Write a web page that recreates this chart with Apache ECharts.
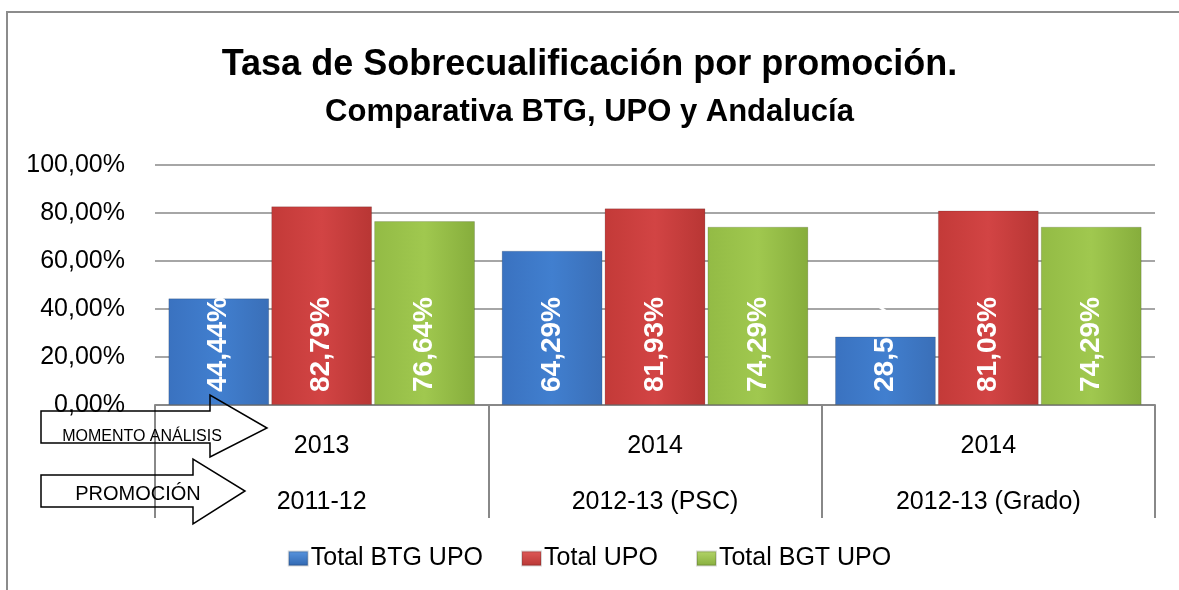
<!DOCTYPE html>
<html><head><meta charset="utf-8">
<script src="https://cdn.jsdelivr.net/npm/echarts@6/dist/echarts.min.js"></script>
<style>html,body{margin:0;padding:0;background:#fff}#c{width:1179px;height:590px}</style>
</head><body><div id="c"></div>
<script>
const years = ['2013', '2014', '2014'];
const promos = ['2011-12', '2012-13 (PSC)', '2012-13 (Grado)'];
const seriesNames = ['Total BTG UPO', 'Total UPO', 'Total BGT UPO'];
const btgUpo = [44.44, 64.29, 28.57];
const totalUpo = [82.79, 81.93, 81.03];
const bgtUpo = [76.64, 74.29, 74.29];
const yTicks = [0, 20, 40, 60, 80, 100];

const FONT = '"Liberation Sans", "Open Sans", sans-serif';
const fmt = v => v.toFixed(2).replace('.', ',') + '%';
function grad(c1, c2, c3) {
  return new echarts.graphic.LinearGradient(0, 0, 1, 0, [
    {offset: 0, color: c1}, {offset: 0.5, color: c2}, {offset: 1, color: c3}
  ]);
}
const colors = [
  grad('#3a72c0', '#417fcf', '#3a6fb8'),
  grad('#c33a38', '#d24444', '#b83634'),
  grad('#93bb45', '#a0c84f', '#86ad3c')
];
const legendColors = [
  new echarts.graphic.LinearGradient(0, 0, 0, 1, [{offset: 0, color: '#5a96e0'}, {offset: 1, color: '#2f66b0'}]),
  new echarts.graphic.LinearGradient(0, 0, 0, 1, [{offset: 0, color: '#e05a58'}, {offset: 1, color: '#b83634'}]),
  new echarts.graphic.LinearGradient(0, 0, 0, 1, [{offset: 0, color: '#b4d66a'}, {offset: 1, color: '#86ad3c'}])
];
const dataSets = [btgUpo, totalUpo, bgtUpo];

const chart = echarts.init(document.getElementById('c'));
chart.setOption({
  animation: false,
  textStyle: {fontFamily: FONT},
  title: [
    {text: 'Tasa de Sobrecualificación por promoción.', left: 'center', top: 42,
     textStyle: {fontSize: 36, fontWeight: 'bold', color: '#000', fontFamily: FONT}},
    {text: 'Comparativa BTG, UPO y Andalucía', left: 'center', top: 92,
     textStyle: {fontSize: 31, fontWeight: 'bold', color: '#000', fontFamily: FONT}}
  ],
  legend: {
    top: 541, left: 'center', itemWidth: 19, itemHeight: 14, itemGap: 38,
    icon: 'rect',
    textStyle: {fontSize: 25, color: '#000', fontFamily: FONT, padding: [0, 0, 0, -2]},
    data: seriesNames.map((n, i) => ({name: n, itemStyle: {color: legendColors[i]}}))
  },
  grid: {left: 155, right: 24, top: 165, bottom: 185, containLabel: false},
  xAxis: {
    type: 'category',
    data: years.map((y, i) => y + '\n\n' + promos[i]),
    axisLine: {lineStyle: {color: '#888', width: 2}},
    axisTick: {show: true, length: 113, lineStyle: {color: '#888', width: 2}},
    axisLabel: {fontSize: 25, color: '#000', lineHeight: 28, margin: 27, fontFamily: FONT}
  },
  yAxis: {
    type: 'value', min: 0, max: 100, interval: 20,
    axisLine: {show: false}, axisTick: {show: false},
    splitLine: {lineStyle: {color: '#888', width: 1.5}},
    axisLabel: {fontSize: 25, color: '#000', margin: 30, formatter: v => yTicks.includes(v) ? fmt(v) : '', fontFamily: FONT}
  },
  series: dataSets.map((d, i) => ({
    name: seriesNames[i], type: 'bar', data: d,
    barCategoryGap: '8%', barGap: '2%',
    itemStyle: {color: colors[i], borderColor: 'rgba(0,0,0,0.15)', borderWidth: 1},
    label: {
      show: true, position: 'insideBottom', rotate: 90, align: 'left', verticalAlign: 'middle',
      distance: 13, color: '#fff', fontWeight: 'bold', fontSize: 28, fontFamily: FONT,
      formatter: p => fmt(p.value)
    }
  })),
  graphic: [
    {type: 'rect', shape: {x: 7, y: 12, width: 1200, height: 600}, style: {fill: 'none', stroke: '#8c8c8c', lineWidth: 2}, z: 0},
    {type: 'polygon', shape: {points: [[41,411],[210,411],[210,395],[267,428],[210,457],[210,443],[41,443]]},
     style: {fill: 'none', stroke: '#000', lineWidth: 1.5}, z: 100},
    {type: 'text', style: {text: 'MOMENTO ANÁLISIS', x: 142, y: 437, align: 'center', verticalAlign: 'middle', fontSize: 16, fill: '#000', fontFamily: FONT}, z: 101},
    {type: 'polygon', shape: {points: [[41,475],[193,475],[193,459],[245,491],[193,524],[193,507],[41,507]]},
     style: {fill: 'none', stroke: '#000', lineWidth: 1.5}, z: 100},
    {type: 'text', style: {text: 'PROMOCIÓN', x: 138, y: 494, align: 'center', verticalAlign: 'middle', fontSize: 20, fill: '#000', fontFamily: FONT}, z: 101}
  ]
});
</script></body></html>
